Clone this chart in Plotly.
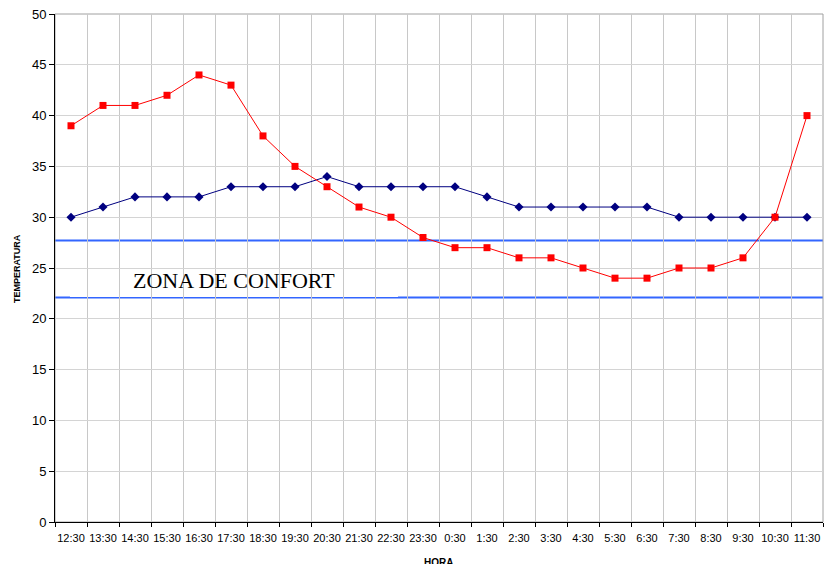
import plotly.graph_objects as go

horas = ["12:30", "13:30", "14:30", "15:30", "16:30", "17:30", "18:30", "19:30",
         "20:30", "21:30", "22:30", "23:30", "0:30", "1:30", "2:30", "3:30",
         "4:30", "5:30", "6:30", "7:30", "8:30", "9:30", "10:30", "11:30"]
exterior = [39, 41, 41, 42, 44, 43, 38, 35, 33, 31, 30, 28, 27, 27, 26, 26,
            25, 24, 24, 25, 25, 26, 30, 40]
interior = [30, 31, 32, 32, 32, 33, 33, 33, 34, 33, 33, 33, 33, 32, 31, 31,
            31, 31, 31, 30, 30, 30, 30, 30]
confort_sup = 27.7
confort_inf = 22.1

fig = go.Figure()
fig.add_trace(go.Scatter(x=horas, y=interior, mode="lines+markers",
                         line=dict(color="#000080", width=1),
                         marker=dict(symbol="diamond", size=7, color="#000080"),
                         showlegend=False))
fig.add_trace(go.Scatter(x=horas, y=exterior, mode="lines+markers",
                         line=dict(color="#FF0000", width=1),
                         marker=dict(symbol="square", size=7, color="#FF0000"),
                         showlegend=False))

shapes = [
    dict(type="line", xref="paper", yref="y", x0=0, x1=1, y0=confort_sup, y1=confort_sup,
         line=dict(color="#3366FF", width=2), layer="between"),
    dict(type="line", xref="paper", yref="y", x0=0, x1=1, y0=confort_inf, y1=confort_inf,
         line=dict(color="#3366FF", width=2), layer="between"),
    dict(type="rect", xref="paper", yref="y", x0=0.0195, x1=0.4466, y0=confort_inf + 0.05, y1=26.0,
         fillcolor="white", line=dict(width=0), layer="between"),
    dict(type="rect", xref="paper", yref="paper", x0=0, x1=1, y0=0, y1=1,
         line=dict(color="#a0a0a0", width=1), layer="below"),
]

fig.update_layout(
    width=824, height=564,
    margin=dict(l=55, r=1, t=14, b=42),
    paper_bgcolor="white", plot_bgcolor="white",
    font=dict(family="Arial, Liberation Sans, sans-serif", color="#000000"),
    shapes=shapes,
    xaxis=dict(type="category", tickson="boundaries", showgrid=True, gridcolor="#c8c8c8",
               gridwidth=1, ticks="outside", ticklen=4, tickcolor="#000000",
               showline=True, linecolor="#000000", linewidth=1, tickangle=0,
               automargin=False, ticklabeloverflow="allow", ticklabelstandoff=6,
               tickfont=dict(size=11), range=[-0.5, 23.5]),
    yaxis=dict(range=[0, 50], dtick=5, showgrid=True, gridcolor="#d4d4d4", gridwidth=1,
               ticks="outside", ticklen=5, tickcolor="#000000", automargin=False,
               ticklabeloverflow="allow",
               showline=True, linecolor="#000000", linewidth=1,
               tickfont=dict(size=13), zeroline=False),
    annotations=[
        dict(text="ZONA DE CONFORT", xref="paper", yref="y", x=(234 - 55) / 768, y=23.75,
             xanchor="center", yanchor="middle",
             showarrow=False, font=dict(family="Liberation Serif, Times New Roman, serif",
                                        size=22, color="#000000")),
        dict(text="<b>TEMPERATURA</b>", xref="paper", yref="paper", x=-0.0495, y=0.5,
             xanchor="center", yanchor="middle", textangle=-90, showarrow=False,
             font=dict(size=9)),
        dict(text="<b>HORA</b>", xref="paper", yref="paper", x=(438 - 55) / 768, y=-0.064,
             xanchor="center", yanchor="top", showarrow=False, font=dict(size=10)),
    ],
)

fig.write_html("out.html", config={"displayModeBar": False},
               post_script="document.body.style.margin='0';document.body.style.overflow='hidden';")
